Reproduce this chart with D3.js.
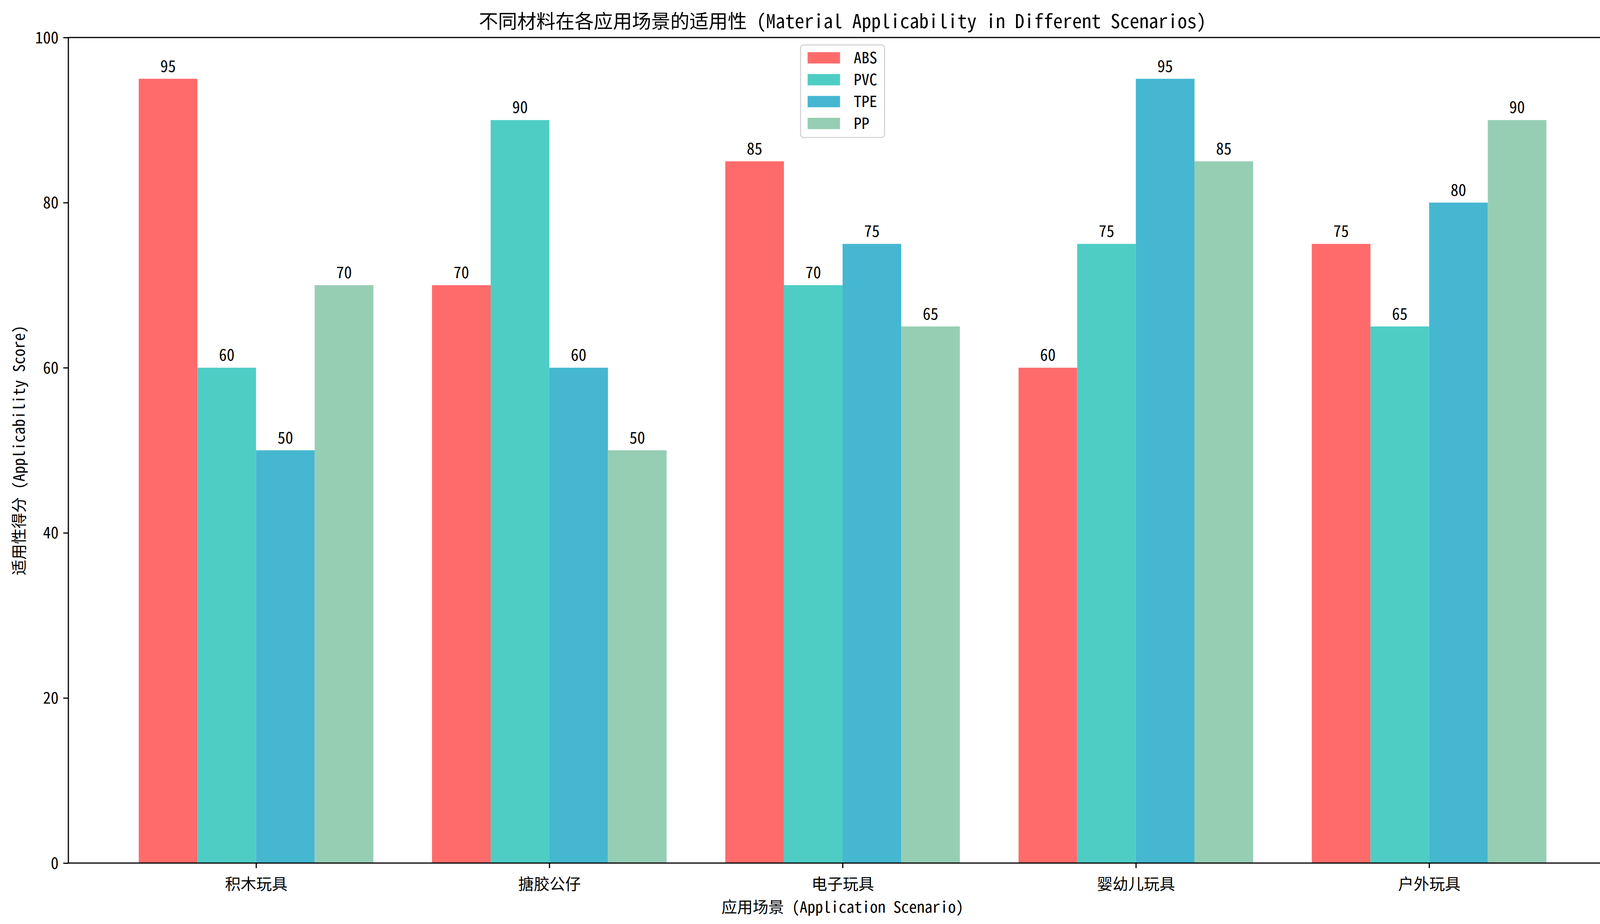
<!DOCTYPE html>
<html lang="zh">
<head>
<meta charset="UTF-8">
<title>不同材料在各应用场景的适用性</title>
<script src="https://d3js.org/d3.v7.min.js"></script>
<style>
  html, body { margin: 0; padding: 0; background: #fff; overflow: hidden; }
  svg { display: block; }
  text { font-family: "Noto Sans Mono CJK SC", "Noto Sans CJK SC", sans-serif; fill: #000; }
</style>
</head>
<body>
<div id="chart"></div>
<script>
// data
var scenarios = ["积木玩具", "搪胶公仔", "电子玩具", "婴幼儿玩具", "户外玩具"];
var materials = ["ABS", "PVC", "TPE", "PP"];
var colors = ["#FF6B6B", "#4ECDC4", "#45B7D1", "#96CEB4"];
var absScores = [95, 70, 85, 60, 75];
var pvcScores = [60, 90, 70, 75, 65];
var tpeScores = [50, 60, 75, 95, 80];
var ppScores  = [70, 50, 65, 85, 90];
var yTicks = [0, 20, 40, 60, 80, 100];

var series = [absScores, pvcScores, tpeScores, ppScores];

var W = 4168, H = 2365;
var margin = {top: 96, right: 29, bottom: 156, left: 175};
var barW = 0.2;

var svg = d3.select("#chart").append("svg")
    .attr("width", W)
    .attr("height", H);

// scales (matplotlib style limits: bars span -0.4..4.4, plus 5% margin)
var x = d3.scaleLinear()
    .domain([-0.64, scenarios.length - 1 + 0.64])
    .range([margin.left, W - margin.right]);
var y = d3.scaleLinear()
    .domain([0, 100])
    .range([H - margin.bottom, margin.top]);

// bars
series.forEach(function(vals, j) {
    var off = (j - 1.5) * barW;
    var g = svg.append("g");
    g.selectAll("rect")
        .data(vals)
        .enter()
        .append("rect")
        .attr("x", function(d, i) { return x(i + off - barW / 2); })
        .attr("width", function() { return x(barW) - x(0); })
        .attr("y", function(d) { return y(d); })
        .attr("height", function(d) { return y(0) - y(d); })
        .attr("fill", colors[j]);

    // value labels
    g.selectAll("text")
        .data(vals)
        .enter()
        .append("text")
        .attr("x", function(d, i) { return x(i + off); })
        .attr("y", function(d) { return y(d) - 18; })
        .attr("text-anchor", "middle")
        .attr("font-size", 40)
        .text(function(d) { return d; });
});

// y axis
var yAxis = d3.axisLeft(y).tickValues(yTicks).tickSize(13).tickPadding(12);
var gy = svg.append("g")
    .attr("transform", "translate(" + margin.left + ",0)")
    .call(yAxis);
gy.select(".domain").remove();
gy.selectAll("line").attr("stroke", "#000").attr("stroke-width", 3);
gy.selectAll("text")
    .attr("font-size", 40)
    .attr("dy", "0.35em");

// x axis
var xAxis = d3.axisBottom(x)
    .tickValues(d3.range(scenarios.length))
    .tickFormat(function(i) { return scenarios[i]; })
    .tickSize(13).tickPadding(12);
var gx = svg.append("g")
    .attr("transform", "translate(0," + (H - margin.bottom) + ")")
    .call(xAxis);
gx.select(".domain").remove();
gx.selectAll("line").attr("stroke", "#000").attr("stroke-width", 3);
gx.selectAll("text")
    .attr("font-size", 40)
    .attr("y", 0)
    .attr("dy", 0)
    .attr("transform", "translate(0,68)");

// spines
svg.append("rect")
    .attr("x", margin.left)
    .attr("y", margin.top)
    .attr("width", W - margin.left - margin.right)
    .attr("height", H - margin.top - margin.bottom)
    .attr("fill", "none")
    .attr("stroke", "#000")
    .attr("stroke-width", 3);

// title and axis labels
var cx = (margin.left + W - margin.right) / 2;
svg.append("text")
    .attr("x", cx)
    .attr("y", 72)
    .attr("text-anchor", "middle")
    .attr("font-size", 49)
    .text("不同材料在各应用场景的适用性 (Material Applicability in Different Scenarios)");

svg.append("text")
    .attr("x", cx)
    .attr("y", 2336)
    .attr("text-anchor", "middle")
    .attr("font-size", 40)
    .text("应用场景 (Application Scenario)");

var cy = (margin.top + H - margin.bottom) / 2;
svg.append("text")
    .attr("transform", "translate(63," + cy + ") rotate(-90)")
    .attr("text-anchor", "middle")
    .attr("font-size", 40)
    .text("适用性得分 (Applicability Score)");

// legend (upper center)
var legW = 215, legH = 237;
var leg = svg.append("g")
    .attr("transform", "translate(" + (cx - legW / 2) + "," + 115 + ")");
leg.append("rect")
    .attr("width", legW)
    .attr("height", legH)
    .attr("rx", 8)
    .attr("fill", "#fff")
    .attr("fill-opacity", 0.8)
    .attr("stroke", "#d6d6d6")
    .attr("stroke-width", 3);
var items = leg.selectAll("g.item")
    .data(materials)
    .enter()
    .append("g")
    .attr("class", "item")
    .attr("transform", function(d, i) { return "translate(0," + (33 + i * 56) + ")"; });
items.append("rect")
    .attr("x", 18)
    .attr("y", -14.5)
    .attr("width", 83)
    .attr("height", 29)
    .attr("fill", function(d, i) { return colors[i]; });
items.append("text")
    .attr("x", 136)
    .attr("y", 14)
    .attr("font-size", 40)
    .text(function(d) { return d; });
</script>
</body>
</html>
